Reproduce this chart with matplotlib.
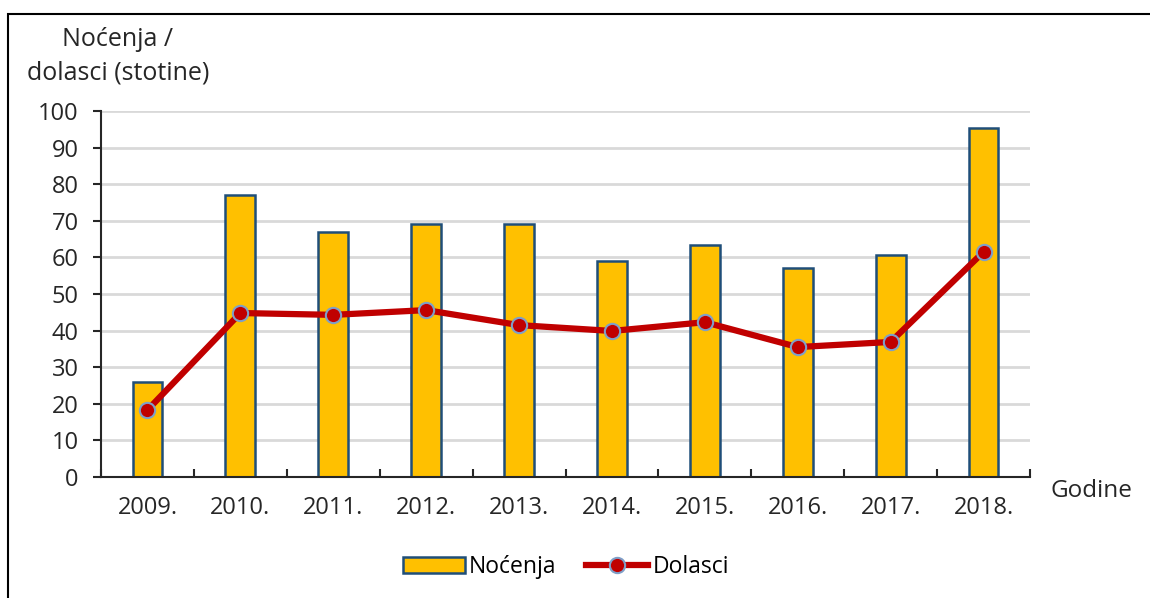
import numpy as np
import matplotlib.pyplot as plt
from matplotlib.patches import Rectangle

# Podaci
godine = ['2009.', '2010.', '2011.', '2012.', '2013.', '2014.', '2015.', '2016.', '2017.', '2018.']
nocenja = [26, 77, 67, 69, 69, 59, 63.3, 57.2, 60.7, 95.4]
dolasci = [18.3, 44.8, 44.3, 45.6, 41.5, 39.9, 42.3, 35.5, 36.9, 61.5]

plt.rcParams['font.family'] = ['Open Sans', 'DejaVu Sans']
tekst = '#262626'

fig = plt.figure(figsize=(11.5, 5.98), dpi=100)
ax = fig.add_axes([101 / 1150, 1 - 477 / 598, (1030 - 101) / 1150, (477 - 111) / 598])

x = np.arange(len(godine))
ax.bar(x, nocenja, width=0.32, color='#FFC000', edgecolor='#1F4E79', linewidth=1.8,
       label='Noćenja', zorder=2)
ax.plot(x, dolasci, color='#C00000', linewidth=4.5, marker='o', markersize=11,
        markerfacecolor='#C00000', markeredgecolor='#7F9FC8', markeredgewidth=1.5,
        label='Dolasci', zorder=3)

ax.set_xlim(-0.5, len(godine) - 0.5)
ax.set_ylim(0, 100)
ax.set_yticks(range(0, 101, 10))
ax.set_xticks(x)
ax.set_xticklabels(godine)
ax.set_xticks(np.arange(-0.5, len(godine), 1), minor=True)
ax.tick_params(axis='x', which='major', length=0, pad=14, labelsize=17, colors=tekst)
ax.tick_params(axis='x', which='minor', length=6, direction='in', width=1.5, color=tekst)
ax.tick_params(axis='y', length=6, width=1.5, labelsize=17, colors=tekst, pad=10)
ax.grid(axis='y', color='#D9D9D9', linewidth=2, zorder=0)
ax.set_axisbelow(True)
for s in ['top', 'right']:
    ax.spines[s].set_visible(False)
for s in ['left', 'bottom']:
    ax.spines[s].set_linewidth(1.5)
    ax.spines[s].set_color(tekst)

fig.text(118 / 1150, 1 - 40 / 598, 'Noćenja /', ha='center', va='center', fontsize=18, color=tekst)
fig.text(118 / 1150, 1 - 73 / 598, 'dolasci (stotine)', ha='center', va='center', fontsize=18, color=tekst)
fig.text(1091 / 1150, 1 - 491 / 598, 'Godine', ha='center', va='center', fontsize=17.5, color=tekst)

h, l = ax.get_legend_handles_labels()
fig.legend(h[::-1], l[::-1], loc='center', bbox_to_anchor=(566 / 1150, 1 - 567 / 598), ncol=2,
           frameon=False, fontsize=16.5, handlelength=2.7, columnspacing=1.3, handletextpad=0.2)

# okvir slike
fig.patches.append(Rectangle((8 / 1150, -0.1), 1.2, 1 - 14 / 598 + 0.1, transform=fig.transFigure,
                             fill=False, edgecolor='black', linewidth=1.5, clip_on=False))

fig.savefig('out.png', dpi=100)
